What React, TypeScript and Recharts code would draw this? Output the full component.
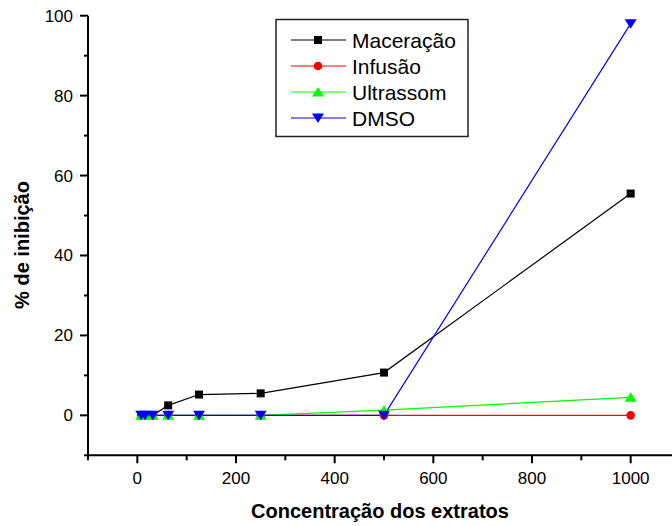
import { Line, LineChart, XAxis, YAxis } from "recharts";

const conc = [7.8, 15.6, 31.25, 62.5, 125, 250, 500, 1000];
const maceracao = [0, 0, 0, 2.5, 5.2, 5.5, 10.7, 55.5];
const infusao = [0, 0, 0, 0, 0, 0, 0, 0];
const ultrassom = [0, 0, 0, 0, 0, 0, 1.3, 4.5];
const dmso = [0, 0, 0, 0, 0, 0, 0, 98];

const xTicks = [-100, 0, 100, 200, 300, 400, 500, 600, 700, 800, 900, 1000, 1100];
const yTicks = [-10, 0, 10, 20, 30, 40, 50, 60, 70, 80, 90, 100];

const data = conc.map((c, i) => ({
  conc: c,
  maceracao: maceracao[i],
  infusao: infusao[i],
  ultrassom: ultrassom[i],
  dmso: dmso[i],
}));

const FONT = "'Liberation Sans', Arial, sans-serif";

const SERIES = [
  { key: "maceracao", name: "Maceração", color: "#000000", shape: "square" },
  { key: "infusao", name: "Infusão", color: "#ff0000", shape: "circle" },
  { key: "ultrassom", name: "Ultrassom", color: "#00ff00", shape: "up" },
  { key: "dmso", name: "DMSO", color: "#0000ff", shape: "down" },
];

function Marker({ cx, cy, shape, color }: { cx: number; cy: number; shape: string; color: string }) {
  if (cx == null || cy == null) return null;
  if (shape === "square")
    return <rect x={cx - 4} y={cy - 4} width={8} height={8} fill={color} />;
  if (shape === "circle") return <circle cx={cx} cy={cy} r={4.3} fill={color} />;
  if (shape === "up")
    return <polygon points={`${cx - 6},${cy + 4.5} ${cx + 6},${cy + 4.5} ${cx},${cy - 5}`} fill={color} />;
  return <polygon points={`${cx - 6},${cy - 4.5} ${cx + 6},${cy - 4.5} ${cx},${cy + 5}`} fill={color} />;
}

// ticks drawn by hand so major/minor lengths differ
function XTick(props: any) {
  const { x, y, payload } = props;
  const v = payload.value;
  const major = v >= 0 && v <= 1000 && v % 200 === 0;
  return (
    <g>
      <line x1={x} x2={x} y1={y} y2={y + (major ? 8 : 5)} stroke="#000" strokeWidth={2} />
      {major ? (
        <text x={x} y={y + 29} textAnchor="middle" fontSize={17} fontFamily={FONT} fill="#000">
          {v}
        </text>
      ) : null}
    </g>
  );
}

function YTick(props: any) {
  const { x, y, payload } = props;
  const v = payload.value;
  const major = v >= 0 && v % 20 === 0;
  return (
    <g>
      <line x1={x} x2={x - (major ? 8 : 4)} y1={y} y2={y} stroke="#000" strokeWidth={2} />
      {major ? (
        <text x={x - 15} y={y + 6} textAnchor="end" fontSize={17} fontFamily={FONT} fill="#000">
          {v}
        </text>
      ) : null}
    </g>
  );
}

export default function App() {
  return (
    <div style={{ position: "fixed", left: 0, top: 0, width: 672, height: 526, overflow: "hidden", background: "#fff" }}>
      <LineChart
        width={700}
        height={526}
        data={data}
        margin={{ top: 15.7, right: 20, bottom: 40.7, left: 58 }}
      >
        <XAxis
          type="number"
          dataKey="conc"
          domain={[-100, 1100]}
          ticks={xTicks}
          interval={0}
          height={30}
          tickSize={0}
          tickMargin={0}
          tickLine={false}
          tick={<XTick />}
          axisLine={{ stroke: "#000", strokeWidth: 2 }}
        />
        <YAxis
          type="number"
          domain={[-10, 100]}
          ticks={yTicks}
          interval={0}
          width={30}
          tickSize={0}
          tickMargin={0}
          tickLine={false}
          tick={<YTick />}
          axisLine={{ stroke: "#000", strokeWidth: 2 }}
        />
        {SERIES.map((s) => (
          <Line
            key={s.key}
            type="linear"
            dataKey={s.key}
            name={s.name}
            stroke={s.color}
            strokeWidth={1.2}
            isAnimationActive={false}
            dot={(p: any) => <Marker key={`${s.key}-${p.index}`} cx={p.cx} cy={p.cy} shape={s.shape} color={s.color} />}
            activeDot={false}
          />
        ))}
      </LineChart>
      <svg width={672} height={526} style={{ position: "absolute", left: 0, top: 0, pointerEvents: "none" }}>
        <text x={380} y={518} textAnchor="middle" fontSize={20} fontWeight="bold" fontFamily={FONT} fill="#000">
          Concentração dos extratos
        </text>
        <text
          transform="translate(29,245) rotate(-90)"
          textAnchor="middle"
          fontSize={20}
          fontWeight="bold"
          fontFamily={FONT}
          fill="#000"
        >
          % de inibição
        </text>
        <rect x={276} y={19.5} width={192} height={117} fill="#fff" stroke="#222" strokeWidth={1.5} />
        {SERIES.map((s, i) => {
          const ly = 40 + i * 26;
          return (
            <g key={s.key}>
              <line x1={291} x2={346} y1={ly} y2={ly} stroke={s.color} strokeWidth={1.2} />
              <Marker cx={318} cy={ly} shape={s.shape} color={s.color} />
              <text x={352} y={ly + 7.5} fontSize={21} fontFamily={FONT} fill="#000">
                {s.name}
              </text>
            </g>
          );
        })}
      </svg>
    </div>
  );
}
